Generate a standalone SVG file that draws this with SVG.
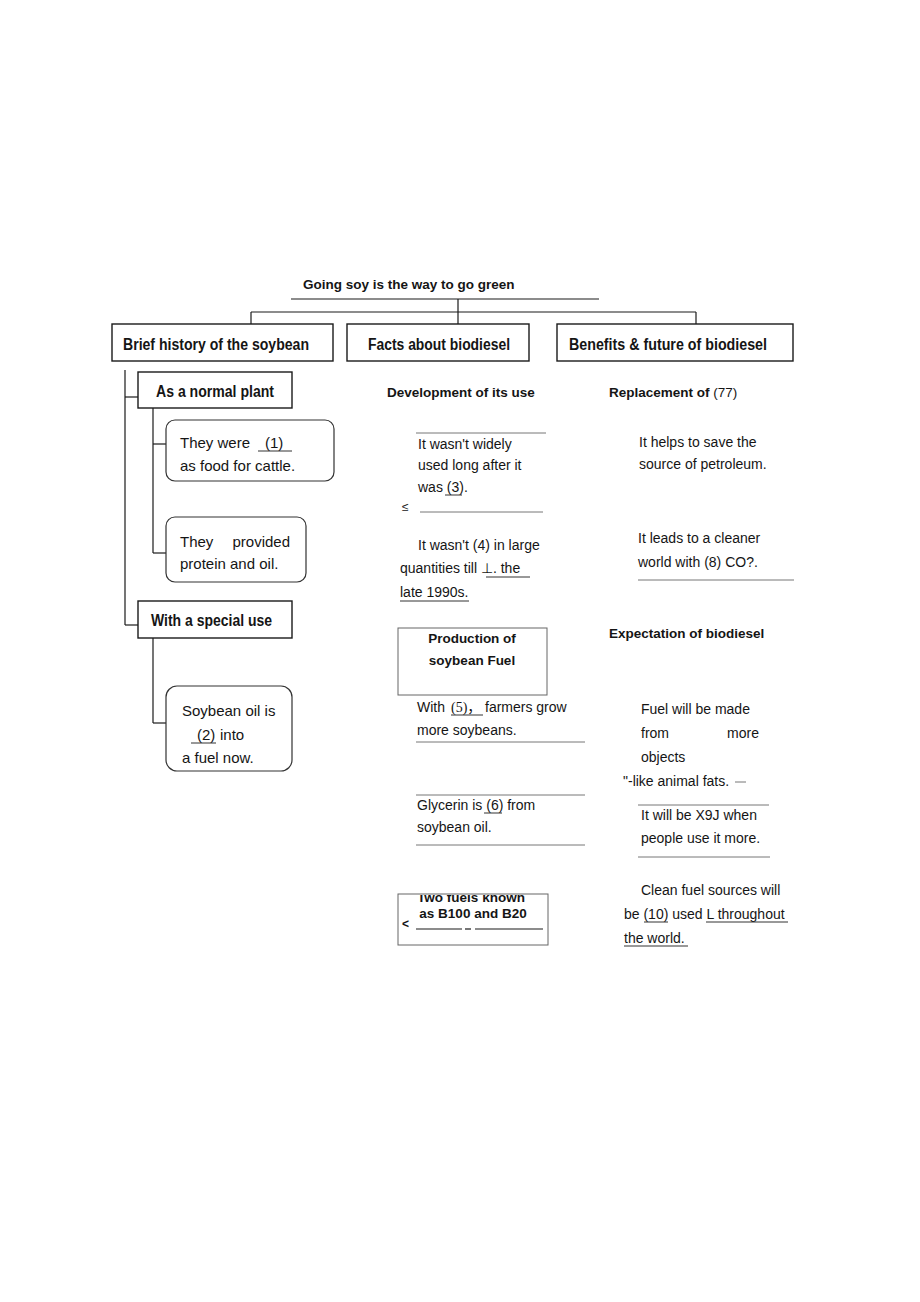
<svg xmlns="http://www.w3.org/2000/svg" width="920" height="1302" viewBox="0 0 920 1302">
<style>
text{font-family:"Liberation Sans",Arial,sans-serif;fill:#151515}
.hb{font-size:16px;font-weight:bold}
.h{font-size:13.5px;font-weight:bold}
.t{font-size:14px}
.tl{font-size:15px}
.cjk{font-family:"Liberation Serif","Noto Sans CJK SC",serif;font-size:14px}
.box{fill:#fff;stroke:#1a1a1a;stroke-width:1.4}
.rbox{fill:#fff;stroke:#333;stroke-width:1.2}
.gbox{fill:#fff;stroke:#666;stroke-width:1}
.ln{stroke:#1a1a1a;stroke-width:1.2;fill:none}
.ul{stroke:#333;stroke-width:1;fill:none}
.gl{stroke:#666;stroke-width:0.9;fill:none}
</style>
<defs>
<clipPath id="clipB"><rect x="398" y="895" width="150" height="50"/></clipPath>
</defs>
<rect width="920" height="1302" fill="#fff"/>

<g id="connectors">
<line class="ln" x1="251" y1="312" x2="696" y2="312"/>
<line class="ln" x1="251" y1="312" x2="251" y2="324"/>
<line class="ln" x1="696" y1="312" x2="696" y2="324"/>
<line class="ln" x1="458" y1="299" x2="458" y2="324"/>
<line class="ln" x1="125" y1="370" x2="125" y2="625"/>
<line class="ln" x1="125" y1="397" x2="138" y2="397"/>
<line class="ln" x1="125" y1="625" x2="138" y2="625"/>
<line class="ln" x1="153" y1="408" x2="153" y2="553"/>
<line class="ln" x1="153" y1="444" x2="166" y2="444"/>
<line class="ln" x1="153" y1="553" x2="166" y2="553"/>
<line class="ln" x1="153" y1="638" x2="153" y2="723"/>
<line class="ln" x1="153" y1="723" x2="166" y2="723"/>
</g>

<g id="title">
<text class="h" x="303" y="289" font-size="13">Going soy is the way to go green</text>
<line class="ln" x1="291" y1="299" x2="599" y2="299"/>
</g>

<g id="brief-history">
<rect class="box" x="112" y="324" width="221" height="37"/>
<text class="hb" x="123" y="350" textLength="186" lengthAdjust="spacingAndGlyphs">Brief history of the soybean</text>
</g>
<g id="facts">
<rect class="box" x="347" y="324" width="182" height="37"/>
<text class="hb" x="368" y="350" textLength="142" lengthAdjust="spacingAndGlyphs">Facts about biodiesel</text>
</g>
<g id="benefits">
<rect class="box" x="557" y="324" width="236" height="37"/>
<text class="hb" x="569" y="350" textLength="198" lengthAdjust="spacingAndGlyphs">Benefits &amp; future of biodiesel</text>
</g>

<g id="normal-plant">
<rect class="box" x="138" y="372" width="154" height="36"/>
<text class="hb" x="156" y="397" textLength="118" lengthAdjust="spacingAndGlyphs">As a normal plant</text>
</g>
<g id="food-cattle">
<rect class="rbox" x="166" y="420" width="168" height="61" rx="9"/>
<text class="tl" x="180" y="448">They were</text>
<text class="tl" x="265" y="448">(1)</text>
<line class="ul" x1="258" y1="451" x2="292" y2="451"/>
<text class="tl" x="180" y="471">as food for cattle.</text>
</g>
<g id="protein-oil">
<rect class="rbox" x="166" y="517" width="140" height="65" rx="9"/>
<text class="tl" x="180" y="547">They</text>
<text class="tl" x="290" y="547" text-anchor="end">provided</text>
<text class="tl" x="180" y="569">protein and oil.</text>
</g>
<g id="special-use">
<rect class="box" x="138" y="601" width="154" height="37"/>
<text class="hb" x="151" y="626" textLength="121" lengthAdjust="spacingAndGlyphs">With a special use</text>
</g>
<g id="soy-fuel">
<rect class="rbox" x="166" y="686" width="126" height="85" rx="11"/>
<text class="tl" x="182" y="716">Soybean oil is</text>
<text class="tl" x="197" y="740">(2)</text>
<text class="tl" x="220" y="740">into</text>
<line class="ul" x1="191" y1="743" x2="216" y2="743"/>
<text class="tl" x="182" y="763">a fuel now.</text>
</g>

<g id="development">
<text class="h" x="387" y="397">Development of its use</text>
</g>
<g id="not-widely-used">
<line class="gl" x1="416" y1="433" x2="546" y2="433"/>
<text class="t" x="418" y="449">It wasn't widely</text>
<text class="t" x="418" y="470">used long after it</text>
<text class="t" x="418" y="492">was (3).</text>
<line class="ul" x1="445" y1="495" x2="462" y2="495"/>
<text x="402" y="511" font-size="12" fill="#444">≤</text>
<line class="gl" x1="420" y1="512" x2="543" y2="512"/>
</g>
<g id="large-quantities">
<text class="t" x="418" y="550">It wasn't (4) in large</text>
<text class="t" x="400" y="573">quantities till ⊥. the</text>
<line class="ul" x1="486" y1="577" x2="530" y2="577"/>
<text class="t" x="400" y="597">late 1990s.</text>
<line class="ul" x1="400" y1="601" x2="469" y2="601"/>
</g>
<g id="production">
<rect class="gbox" x="398" y="628" width="149" height="67"/>
<text class="h" x="472" y="643" text-anchor="middle">Production of</text>
<text class="h" x="472" y="665" text-anchor="middle">soybean Fuel</text>
</g>
<g id="more-soybeans">
<text class="t" x="417" y="712">With</text>
<text class="cjk" x="451" y="712">(5)，</text>
<line class="ul" x1="451" y1="715" x2="483" y2="715"/>
<text class="t" x="485" y="712">farmers grow</text>
<text class="t" x="417" y="735">more soybeans.</text>
<line class="gl" x1="416" y1="742" x2="585" y2="742"/>
</g>
<g id="glycerin">
<line class="gl" x1="416" y1="795" x2="585" y2="795"/>
<text class="t" x="417" y="810">Glycerin is (6) from</text>
<line class="ul" x1="484" y1="813" x2="502" y2="813"/>
<text class="t" x="417" y="832">soybean oil.</text>
<line class="gl" x1="416" y1="845" x2="585" y2="845"/>
</g>
<g id="two-fuels">
<rect class="gbox" x="398" y="894" width="150" height="51"/>
<text class="h" x="471" y="902" text-anchor="middle" clip-path="url(#clipB)">Two fuels known</text>
<text class="h" x="473" y="918" text-anchor="middle">as B100 and B20</text>
<text x="402" y="928" font-size="12" font-weight="bold">&lt;</text>
<line class="ln" x1="416" y1="929" x2="462" y2="929"/>
<line class="ln" x1="465" y1="929" x2="471" y2="929"/>
<line class="ln" x1="475" y1="929" x2="543" y2="929"/>
</g>

<g id="replacement">
<text class="h" x="609" y="397">Replacement of <tspan font-weight="normal">(77)</tspan></text>
</g>
<g id="save-petroleum">
<text class="t" x="639" y="447">It helps to save the</text>
<text class="t" x="639" y="469">source of petroleum.</text>
</g>
<g id="cleaner-world">
<text class="t" x="638" y="543">It leads to a cleaner</text>
<text class="t" x="638" y="567">world with (8) CO?.</text>
<line class="gl" x1="638" y1="580" x2="794" y2="580"/>
</g>
<g id="expectation">
<text class="h" x="609" y="638">Expectation of biodiesel</text>
</g>
<g id="more-objects">
<text class="t" x="641" y="714">Fuel will be made</text>
<text class="t" x="641" y="738">from</text>
<text class="t" x="759" y="738" text-anchor="end">more</text>
<text class="t" x="641" y="762">objects</text>
<text class="t" x="623" y="786">"-like animal fats.</text>
<line class="gl" x1="735" y1="782" x2="746" y2="782"/>
</g>
<g id="use-more">
<line class="gl" x1="638" y1="805" x2="769" y2="805"/>
<text class="t" x="641" y="820">It will be X9J when</text>
<text class="t" x="641" y="843">people use it more.</text>
<line class="gl" x1="638" y1="857" x2="770" y2="857"/>
</g>
<g id="clean-fuel">
<text class="t" x="641" y="895">Clean fuel sources will</text>
<text class="t" x="624" y="919">be (10) used L throughout</text>
<line class="ul" x1="644" y1="922" x2="668" y2="922"/>
<line class="ul" x1="706" y1="922" x2="788" y2="922"/>
<text class="t" x="624" y="943">the world.</text>
<line class="ul" x1="624" y1="946" x2="688" y2="946"/>
</g>
</svg>
